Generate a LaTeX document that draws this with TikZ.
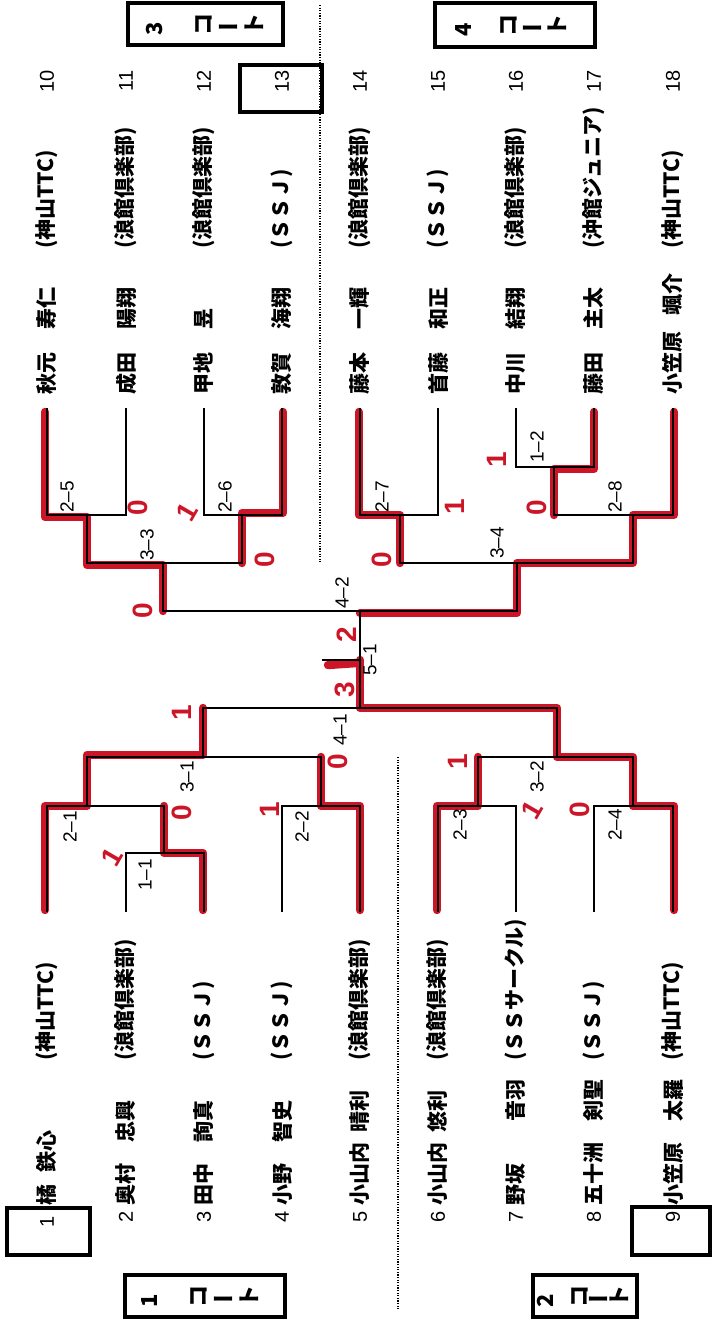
\documentclass[tikz,border=0pt]{standalone}
\usepackage{fontspec}
\usepackage{graphicx}
\usepackage{tikz}
\usetikzlibrary{positioning}
\setmainfont{Liberation Sans}
\newfontfamily\jpfont{Noto Sans CJK JP}
\definecolor{markerred}{RGB}{204,22,40}
\newcommand{\courtlabel}[3]{\rotatebox{90}{#1}\hspace{#2}\rotatebox{90}{コ}\hspace{#3}ー\hspace{#3}\rotatebox{90}{ト}}

\begin{document}
\begin{tikzpicture}[x=0.5pt, y=-0.5pt, line width=1.1pt,
  every node/.style={inner sep=0pt},
  entry/.style={rotate=90, anchor=west, font=\jpfont\bfseries\fontsize{10.5}{12}\selectfont},
  seed/.style={rotate=90, font=\fontsize{10}{10}\selectfont},
  match/.style={rotate=90, font=\fontsize{9.5}{10}\selectfont},
  score/.style={text=markerred, font=\bfseries\fontsize{14}{14}\selectfont},
  marker/.style={draw=markerred, line width=4.2pt, line cap=round, line join=round},
  heavybox/.style={draw, line width=2.2pt},
  courtbox/.style={font=\jpfont\bfseries\fontsize{11}{12}\selectfont},
  divider/.style={line width=1.1pt, dash pattern=on .6pt off .7pt}]
\useasboundingbox (0,0) rectangle (713,1323);
\fill[white] (0,0) rectangle (713,1323);

\draw[marker] (45,412) -- (45,517) -- (87,517) -- (87,565) -- (163,565) -- (163,611);
\draw[marker] (283,412) -- (283,513) -- (242,513) -- (242,563);
\draw[marker] (359,412) -- (359,515) -- (400,515) -- (400,563);
\draw[marker] (594,412) -- (594,469) -- (554,469) -- (554,515);
\draw[marker] (674,412) -- (674,515) -- (633,515) -- (633,563) -- (517,563) -- (517,613) -- (360,613);
\draw[marker] (45,910) -- (45,806) -- (87,806) -- (87,755) -- (203,755) -- (203,708);
\draw[marker] (203,910) -- (203,853) -- (164,853) -- (164,806);
\draw[marker] (360,910) -- (360,806) -- (321,806) -- (321,757);
\draw[marker] (437,910) -- (437,806) -- (478,806) -- (478,757);
\draw[marker] (674,910) -- (674,806) -- (633,806) -- (633,757) -- (557,757) -- (557,708) -- (360,708) -- (360,660);
\draw[marker] (328,665) -- (357,663);

\draw (516,408) |- (594,467) -- (594,408);
\draw (47,408) |- (126,515) -- (126,408);
\draw (204,408) |- (282,515) -- (282,408);
\draw (360,408) |- (438,515) -- (438,408);
\draw (554,467) |- (673,515) -- (673,408);
\draw (87,515) |- (242,563) -- (242,515);
\draw (400,515) |- (633,563) -- (633,515);
\draw (163,563) |- (517,611) -- (517,563);
\draw (360,611) -- (360,708);
\draw (322,660) -- (360,660);
\draw (126,912) |- (204,853) -- (204,912);
\draw (47,912) |- (164,806) -- (164,853);
\draw (282,912) |- (360,806) -- (360,912);
\draw (87,806) |- (321,757) -- (321,806);
\draw (438,912) |- (516,806) -- (516,912);
\draw (594,912) |- (673,806) -- (673,912);
\draw (478,806) |- (633,757) -- (633,806);
\draw (203,757) |- (557,708) -- (557,757);

\draw[divider] (320,5) -- (320,562);
\draw[divider] (398,757) -- (398,1310);

\foreach \n/\x/\ny/\nm/\cl in {1/47/1222/{橘\hspace{.6em}鉄心}/{(神山TTC)},
  2/126/1217/{奥村　忠興}/{(浪館倶楽部)}, 3/204/1217/{田中　詢真}/{(ＳＳＪ)},
  4/282/1217/{小野　智史}/{(ＳＳＪ)}, 5/360/1217/{小山内\hspace{.5em}晴利}/{(浪館倶楽部)},
  6/438/1217/{小山内\hspace{.5em}悠利}/{(浪館倶楽部)}, 7/516/1217/{野坂\hspace{2em}音羽}/{(ＳＳサークル)},
  8/594/1217/{五十洲　剣聖}/{(ＳＳＪ)}, 9/673/1217/{小笠原　太羅}/{(神山TTC)}} {
  \node[seed] (s\n) at (\x,\ny) {\n};
  \node[entry] (p\n) at (\x,1207) {\nm};
  \node[entry] (c\n) at (\x,1062) {\cl};
}
\foreach \n/\x/\nm/\cl in {10/47/{秋元\hspace{1.1em}寿仁}/{(神山TTC)},
  11/126/{成田\hspace{1.1em}陽翔}/{(浪館倶楽部)}, 12/204/{甲地\hspace{1.1em}昱}/{(浪館倶楽部)},
  13/282/{敦賀\hspace{1.1em}海翔}/{(ＳＳＪ)}, 14/360/{藤本\hspace{1.1em}一輝}/{(浪館倶楽部)},
  15/438/{首藤\hspace{1.1em}和正}/{(ＳＳＪ)}, 16/516/{中川\hspace{1.1em}結翔}/{(浪館倶楽部)},
  17/594/{藤田\hspace{1.1em}主太}/{(沖館ジュニア)}, 18/673/{小笠原\hspace{.8em}颯介}/{(神山TTC)}} {
  \node[seed] (s\n) at (\x,81) {\n};
  \node[entry] (p\n) at (\x,396) {\nm};
  \node[entry] (c\n) at (\x,250) {\cl};
}

\draw[heavybox] (7,1208) rectangle (90,1255);
\draw[heavybox] (632,1207) rectangle (710,1255);
\draw[heavybox] (240,65) rectangle (322,112);
\draw[heavybox] (125,1275) rectangle (285,1317);
\draw[heavybox] (533,1275) rectangle (637,1317);
\draw[heavybox] (128,3) rectangle (283,45);
\draw[heavybox] (435,3) rectangle (595,47);
\node[courtbox] (court1) at (200,1296) {\courtlabel{1}{1.5em}{.25em}};
\node[courtbox] (court2) at (583,1296) {\courtlabel{2}{.8em}{0em}};
\node[courtbox] (court3) at (205,24) {\courtlabel{3}{1.5em}{.25em}};
\node[courtbox] (court4) at (511,25) {\courtlabel{4}{1.3em}{.2em}};

\foreach \lab/\x/\y [count=\k] in {2–5/67/497, 2–6/225/497, 3–3/147/545, 4–2/342/593,
  2–7/382/497, 1–2/537/447, 2–8/615/497, 3–4/497/543, 5–1/370/660, 4–1/340/730,
  3–1/187/777, 2–1/70/827, 1–1/145/875, 2–2/302/827, 3–2/537/777, 2–3/460/825, 2–4/615/825}
  \node[match] (m\k) at (\x,\y) {\lab};

\foreach \x/\y/\s/\r [count=\k] in {138/508/0/90, 187/512/1/60, 265/560/0/90, 143/611/0/90,
  382/560/0/90, 455/507/1/90, 497/460/1/90, 537/508/0/90, 347/635/2/90, 345/690/3/90,
  182/713/1/90, 112/857/1/60, 182/813/0/90, 270/810/1/90, 338/762/0/90, 458/762/1/90,
  532/810/1/60, 580/810/0/90}
  \node[score, rotate=\r] (sc\k) at (\x,\y) {\s};
\end{tikzpicture}
\end{document}
